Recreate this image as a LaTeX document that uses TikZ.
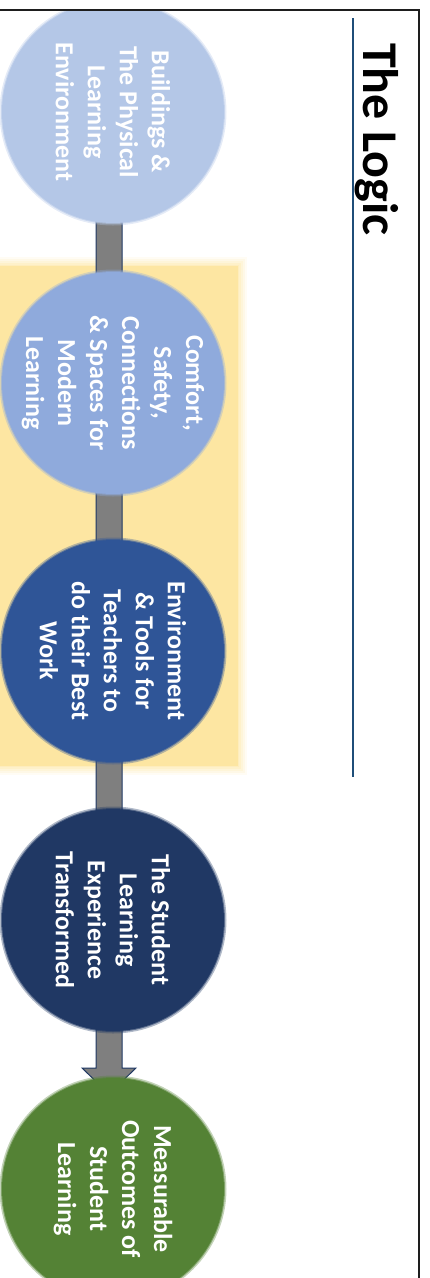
\documentclass[tikz,border=0pt]{standalone}
\usepackage{fontspec}
\setmainfont{Carlito}
\usetikzlibrary{calc}
\definecolor{cA}{HTML}{B4C7E7}
\definecolor{cB}{HTML}{8FAADC}
\definecolor{cC}{HTML}{2F5597}
\definecolor{cD}{HTML}{203864}
\definecolor{cE}{HTML}{548235}
\definecolor{band}{HTML}{FDE6A2}
\definecolor{arrowfill}{HTML}{7F7F7F}
\definecolor{arrowline}{HTML}{1F3864}
\definecolor{rule}{HTML}{1F4E79}
\definecolor{frame}{HTML}{1E1E1E}
\begin{document}
\begin{tikzpicture}[x=1pt,y=-1pt,
  bubble/.style={circle, minimum size=222pt, inner sep=0pt, draw=none},
  btext/.style={text=white, font=\fontsize{26}{32}\selectfont\bfseries, align=center, rotate=-90, inner sep=0pt},
  halo/.style={opacity=0.35}
]
\useasboundingbox (0,0) rectangle (429,1278);
\coordinate (p1) at (113,112);
\coordinate (p2) at (113,383);
\coordinate (p3) at (113,651);
\coordinate (p4) at (113,920);
\coordinate (p5) at (113,1189);
\coordinate (a1) at (109,200);
\coordinate (a2) at (109,1094);
\begin{scope}
\clip (0,10) rectangle (419,1278);
% soft yellow band
\foreach \d/\o in {9/0.12,7/0.16,5/0.2,3/0.26,1/0.32}
  \fill[band, opacity=\o] (-20,266-\d) rectangle (238+\d,766+\d);
\fill[band] (-20,266) rectangle (238,766);
% arrow
\draw[fill=arrowfill, draw=arrowline, line width=1pt, line join=miter]
  ($(a1)+(-13,0)$) -- ($(a2)+(-13,-26)$) -- ($(a2)+(-27,-26)$) -- (a2)
  -- ($(a2)+(27,-26)$) -- ($(a2)+(13,-26)$) -- ($(a1)+(13,0)$) -- cycle;
% circles
\foreach \p/\c in {p1/cA,p2/cB,p3/cC,p4/cD,p5/cE}{
  \fill[\c, halo] (\p) circle (113.5);
  \fill[\c, opacity=0.6] (\p) circle (112);
}
\node[bubble, fill=cA] (c1) at (p1) {};
\node[bubble, fill=cB] (c2) at (p2) {};
\node[bubble, fill=cC] (c3) at (p3) {};
\node[bubble, fill=cD] (c4) at (p4) {};
\node[bubble, fill=cE] (c5) at (p5) {};
\node[btext] (t1) at (c1.center) {Buildings \&\\The Physical\\Learning\\Environment};
\node[btext] (t2) at (c2.center) {Comfort,\\Safety,\\Connections\\\& Spaces for\\Modern\\Learning};
\node[btext] (t3) at (c3.center) {Environment\\\& Tools for\\Teachers to\\do their Best\\Work};
\node[btext] (t4) at (c4.center) {The Student\\Learning\\Experience\\Transformed};
\node[btext] (t5) at (c5.center) {Measurable\\Outcomes of\\Student\\Learning};
\end{scope}
% title and rule
\node[rotate=-90, anchor=base west, inner sep=0pt, font=\fontsize{50}{60}\selectfont\bfseries] (title) at (363,43) {The Logic};
\coordinate (r1) at (353,18);
\coordinate (r2) at (353,777);
\draw[rule, line width=1.8pt] (r1) -- (r2);
% frame
\coordinate (f1) at (0,10);
\coordinate (f2) at (419,10);
\coordinate (f3) at (419,1280);
\draw[frame, line width=2.6pt] (f1) -- (f2) -- (f3);
\end{tikzpicture}
\end{document}
